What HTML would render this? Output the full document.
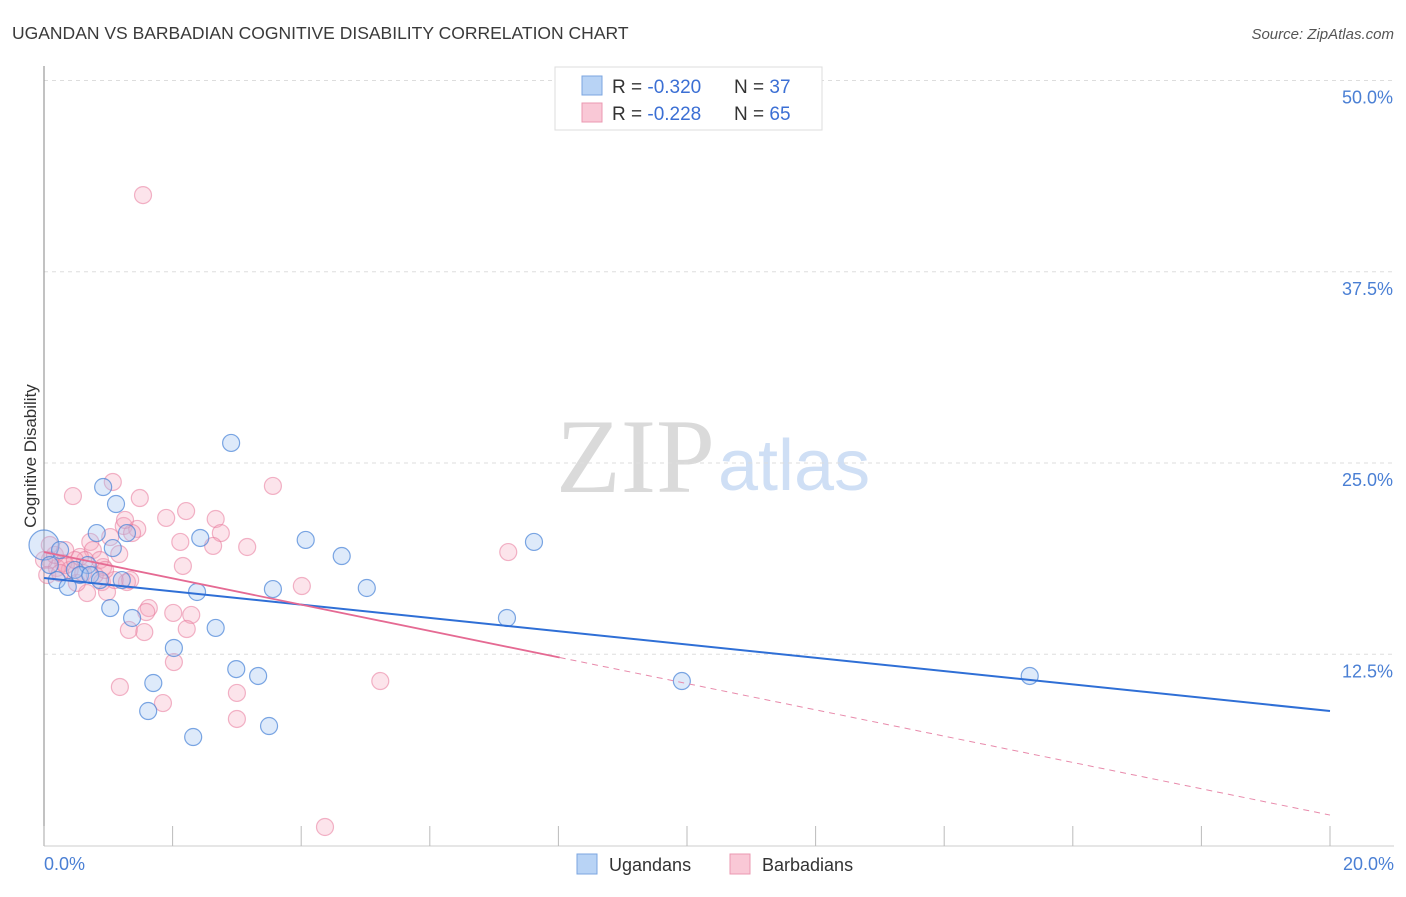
<!DOCTYPE html>
<html><head><meta charset="utf-8"><style>
body{margin:0;background:#fff;font-family:"Liberation Sans",sans-serif;}
</style></head><body>
<svg width="1406" height="892" xmlns="http://www.w3.org/2000/svg" style="font-family:'Liberation Sans',sans-serif">
<text x="12" y="39" font-size="17.5" fill="#3a3a3a">UGANDAN VS BARBADIAN COGNITIVE DISABILITY CORRELATION CHART</text>
<text x="1394" y="39" font-size="15" fill="#555" font-style="italic" text-anchor="end">Source: ZipAtlas.com</text>
<text x="715" y="492" font-size="106" fill="#dadada" text-anchor="end" font-family="Liberation Serif">ZIP</text>
<text x="718" y="490" font-size="72" fill="#cfdff5">atlas</text>
<g id="grid"></g>
<line x1="44" y1="66" x2="44" y2="846" stroke="#999" stroke-width="1.2"/>
<line x1="44" y1="846" x2="1394" y2="846" stroke="#ccc" stroke-width="1"/>
<g id="xticks"></g>
<text x="30" y="462" font-size="17" fill="#333" text-anchor="middle" transform="rotate(-90 30 456)">Cognitive Disability</text>
<g id="pts"></g>
<g id="trend"></g>
<g>
<rect x="555" y="67" width="267" height="63" fill="#fff" stroke="#ddd"/>
<rect x="582" y="76" width="20" height="19" fill="#b8d3f5" stroke="#7ba6e0"/>
<rect x="582" y="103" width="20" height="19" fill="#f9c8d6" stroke="#eb98b1"/>
<text x="612" y="93" font-size="19" fill="#333">R = <tspan fill="#3b6fd4">-0.320</tspan></text>
<text x="734" y="93" font-size="19" fill="#333">N = <tspan fill="#3b6fd4">37</tspan></text>
<text x="612" y="120" font-size="19" fill="#333">R = <tspan fill="#3b6fd4">-0.228</tspan></text>
<text x="734" y="120" font-size="19" fill="#333">N = <tspan fill="#3b6fd4">65</tspan></text>
</g>
<g>
<rect x="577" y="854" width="20" height="20" fill="#b8d3f5" stroke="#7ba6e0"/>
<text x="609" y="871" font-size="18" fill="#333">Ugandans</text>
<rect x="730" y="854" width="20" height="20" fill="#f9c8d6" stroke="#eb98b1"/>
<text x="762" y="871" font-size="18" fill="#333">Barbadians</text>
</g>
</svg>
<script>
const yTicks=[12.5,25.0,37.5,50.0];
const yTickLabels=["12.5%","25.0%","37.5%","50.0%"];
const xTicks=[0,2,4,6,8,10,12,14,16,18,20];
const xTickLabels=["0.0%","20.0%"];
const ugX=[0,0.25,0.2,0.37,0.48,0.68,0.82,0.92,1.03,1.07,1.12,1.21,1.29,1.37,1.62,1.70,2.02,2.32,2.38,2.43,2.67,2.91,2.99,3.33,3.50,3.56,4.07,4.63,5.02,7.20,7.62,9.92,15.33,0.56,0.72,0.09,0.87];
const ugY=[19.64,19.31,17.35,16.90,18.01,18.33,20.42,23.43,15.52,19.44,22.32,17.35,20.42,14.87,8.79,10.62,12.91,7.09,16.57,20.1,14.22,26.31,11.53,11.08,7.81,16.76,19.97,18.92,16.83,14.87,19.84,10.75,11.08,17.68,17.68,18.33,17.35];
const bbX=[1.07,0.45,1.49,1.90,2.21,2.67,2.75,2.63,2.12,3.16,2.16,3.56,4.01,1.24,1.45,1.37,0.72,1.03,1.17,0.76,0.56,0.30,0.09,0.92,0.90,0.98,0.67,1.29,1.63,1.59,2.01,2.29,2.22,1.32,1.56,2.02,1.18,1.85,3.00,3.00,0.51,0.40,0.20,0.61,1.54,7.22,5.23,4.37,0,0.05,0.17,0.34,0.64,0.79,1.10,0.25,0.48,0.87,1.34,0.95,0.33,1.26,0.09];
const bbY=[23.76,22.84,22.71,21.41,21.86,21.34,20.42,19.58,19.84,19.51,18.27,23.50,16.96,20.88,20.69,20.42,19.84,20.16,19.05,19.31,18.86,18.46,18.66,18.20,17.22,16.57,16.50,17.22,15.52,15.26,15.20,15.07,14.15,14.09,13.95,11.99,10.36,9.31,9.97,8.27,17.16,18.01,18.14,17.81,42.51,19.18,10.75,1.21,18.66,17.68,18.99,18.33,18.66,17.68,17.35,17.81,18.66,18.66,17.35,18.01,19.31,21.28,19.64];
const ugTrend=[17.48,8.79];
const bbTrend=[19.18,1.99];
const bbSolidEnd=8.02;

const NS="http://www.w3.org/2000/svg";
const X=v=>44+v*64.3;
const Y=v=>845.5-v*15.3;
function mk(t,a,p){const e=document.createElementNS(NS,t);for(const k in a)e.setAttribute(k,a[k]);p.appendChild(e);return e;}
const grid=document.getElementById('grid');
yTicks.forEach((v,i)=>{
 const l=mk('line',{x1:44,x2:1394,y1:Y(v),y2:Y(v),stroke:'#ddd','stroke-dasharray':'4,4'},grid);
 
 
 const t=mk('text',{x:1393,y:Y(v)+23,'font-size':18,fill:'#4a7fd4','text-anchor':'end'},grid);
 t.textContent=yTickLabels[i];
 
 
});
const xt=document.getElementById('xticks');
xTicks.forEach(v=>{
 const l=mk('line',{x1:X(v),x2:X(v),y1:826,y2:846,stroke:'#bbb'},xt);
 
 
});
[[0,xTickLabels[0],'start',44],[20,xTickLabels[1],'end',1394]].forEach(a=>{
 const t=mk('text',{x:a[3],y:870,'font-size':18,fill:'#4a7fd4','text-anchor':a[2]},xt);
 t.textContent=a[1];
 
 
});
const pts=document.getElementById('pts');
bbX.forEach((v,i)=>{
 const c=mk('circle',{cx:X(v),cy:Y(bbY[i]),r:8.5,fill:'rgba(246,166,190,0.3)',stroke:'rgba(232,120,155,0.55)','stroke-width':1.2},pts);
 
 
});
ugX.forEach((v,i)=>{
 const c=mk('circle',{cx:X(v),cy:Y(ugY[i]),r:i===0?15:8.5,fill:'rgba(160,196,240,0.35)',stroke:'rgba(70,130,215,0.7)','stroke-width':1.2},pts);
 
 
});
const tr=document.getElementById('trend');
const bl=mk('line',{x1:X(0),y1:Y(ugTrend[0]),x2:X(20),y2:Y(ugTrend[1]),stroke:'#2f6fd6','stroke-width':2},tr);


const by=x=>bbTrend[0]+(bbTrend[1]-bbTrend[0])*x/20;
const pl=mk('line',{x1:X(0),y1:Y(by(0)),x2:X(bbSolidEnd),y2:Y(by(bbSolidEnd)),stroke:'#e56a93','stroke-width':1.8},tr);


const pd=mk('line',{x1:X(bbSolidEnd),y1:Y(by(bbSolidEnd)),x2:X(20),y2:Y(by(20)),stroke:'#e88aab','stroke-width':1,'stroke-dasharray':'6,5'},tr);


</script>
</body></html>
